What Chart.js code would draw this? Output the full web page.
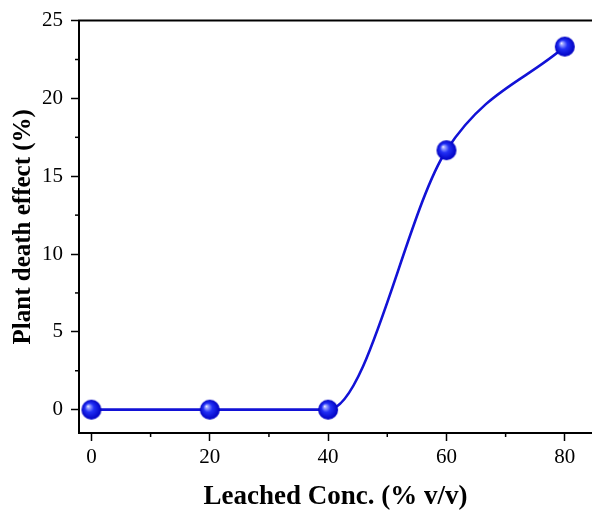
<!DOCTYPE html>
<html>
<head>
<meta charset="utf-8">
<script src="https://cdn.jsdelivr.net/npm/chart.js@4"></script>
<style>
  body { margin: 0; background: #fff; }
  #wrap { width: 592px; height: 513px; }
</style>
</head>
<body>
<div id="wrap"><canvas id="deathChart" width="592" height="513"></canvas></div>
<script>
// data
const concentrations = [0, 20, 40, 60, 80];
const deathEffect = [0, 0, 0, 16.67, 23.33];
const xTicks = [0, 20, 40, 60, 80];
const xMinorTicks = [10, 30, 50, 70];
const yTicks = [0, 5, 10, 15, 20, 25];
const yMinorTicks = [2.5, 7.5, 12.5, 17.5, 22.5];

// shaded blue ball used as the marker
function makeBall(r) {
  const c = document.createElement("canvas");
  c.width = c.height = r * 2 + 2;
  const g = c.getContext("2d");
  const cx = r + 1, cy = r + 1;
  const grad = g.createRadialGradient(cx - r * 0.35, cy - r * 0.35, 0, cx, cy, r);
  grad.addColorStop(0, "#f6f7ff");
  grad.addColorStop(0.16, "#9aa2ff");
  grad.addColorStop(0.45, "#2230f6");
  grad.addColorStop(1, "#0000c0");
  g.fillStyle = grad;
  g.beginPath();
  g.arc(cx, cy, r, 0, Math.PI * 2);
  g.fill();
  return c;
}
const ball = makeBall(10);

// minor ticks + top frame line
const framePlugin = {
  id: "frame",
  afterDraw(chart) {
    const { ctx, chartArea, scales } = chart;
    ctx.save();
    ctx.strokeStyle = "#000";
    ctx.lineWidth = 2;
    ctx.beginPath();
    ctx.moveTo(chartArea.left - 1, chartArea.top);
    ctx.lineTo(chartArea.right, chartArea.top);
    ctx.stroke();
    ctx.lineWidth = 1.5;
    xMinorTicks.forEach(v => {
      const x = scales.x.getPixelForValue(v);
      ctx.beginPath();
      ctx.moveTo(x, chartArea.bottom);
      ctx.lineTo(x, chartArea.bottom + 4);
      ctx.stroke();
    });
    yMinorTicks.forEach(v => {
      const y = scales.y.getPixelForValue(v);
      ctx.beginPath();
      ctx.moveTo(chartArea.left, y);
      ctx.lineTo(chartArea.left - 4, y);
      ctx.stroke();
    });
    ctx.restore();
  }
};

const serif = "'Liberation Serif', 'Times New Roman', serif";
const tickFont = { family: serif, size: 21 };

new Chart(document.getElementById("deathChart"), {
  type: "line",
  data: {
    datasets: [{
      data: concentrations.map((x, i) => ({ x, y: deathEffect[i] })),
      borderColor: "#1212d6",
      borderWidth: 2.6,
      cubicInterpolationMode: "monotone",
      pointStyle: ball,
      pointRadius: 10,
      pointHoverRadius: 10,
      fill: false
    }]
  },
  options: {
    responsive: false,
    animation: false,
    devicePixelRatio: 1,
    layout: { autoPadding: false, padding: { top: 20, right: 0, left: 0, bottom: 0 } },
    plugins: { legend: { display: false }, tooltip: { enabled: false } },
    scales: {
      x: {
        type: "linear",
        min: -2.1,
        max: 84.6,
        afterBuildTicks: s => { s.ticks = xTicks.map(v => ({ value: v })); },
        afterFit: s => { s.height = 80; },
        grid: { drawOnChartArea: false, tickLength: 8, tickColor: "#000", tickWidth: 1.5 },
        border: { display: true, color: "#000", width: 2 },
        ticks: { color: "#000", font: tickFont, padding: 4, maxRotation: 0 },
        title: { display: true, text: "Leached Conc. (% v/v)", color: "#000", font: { family: serif, size: 27, weight: "bold" }, padding: { top: 0, bottom: 0 } }
      },
      y: {
        min: -1.5,
        max: 25,
        afterBuildTicks: s => { s.ticks = yTicks.map(v => ({ value: v })); },
        afterFit: s => { s.width = 79; },
        grid: { drawOnChartArea: false, tickLength: 8, tickColor: "#000", tickWidth: 1.5 },
        border: { display: true, color: "#000", width: 2 },
        ticks: { color: "#000", font: tickFont, padding: 8 },
        title: { display: true, text: "Plant death effect (%)", color: "#000", font: { family: serif, size: 25, weight: "bold" }, padding: { top: 9, bottom: 2 } }
      }
    }
  },
  plugins: [framePlugin]
});
</script>
</body>
</html>
